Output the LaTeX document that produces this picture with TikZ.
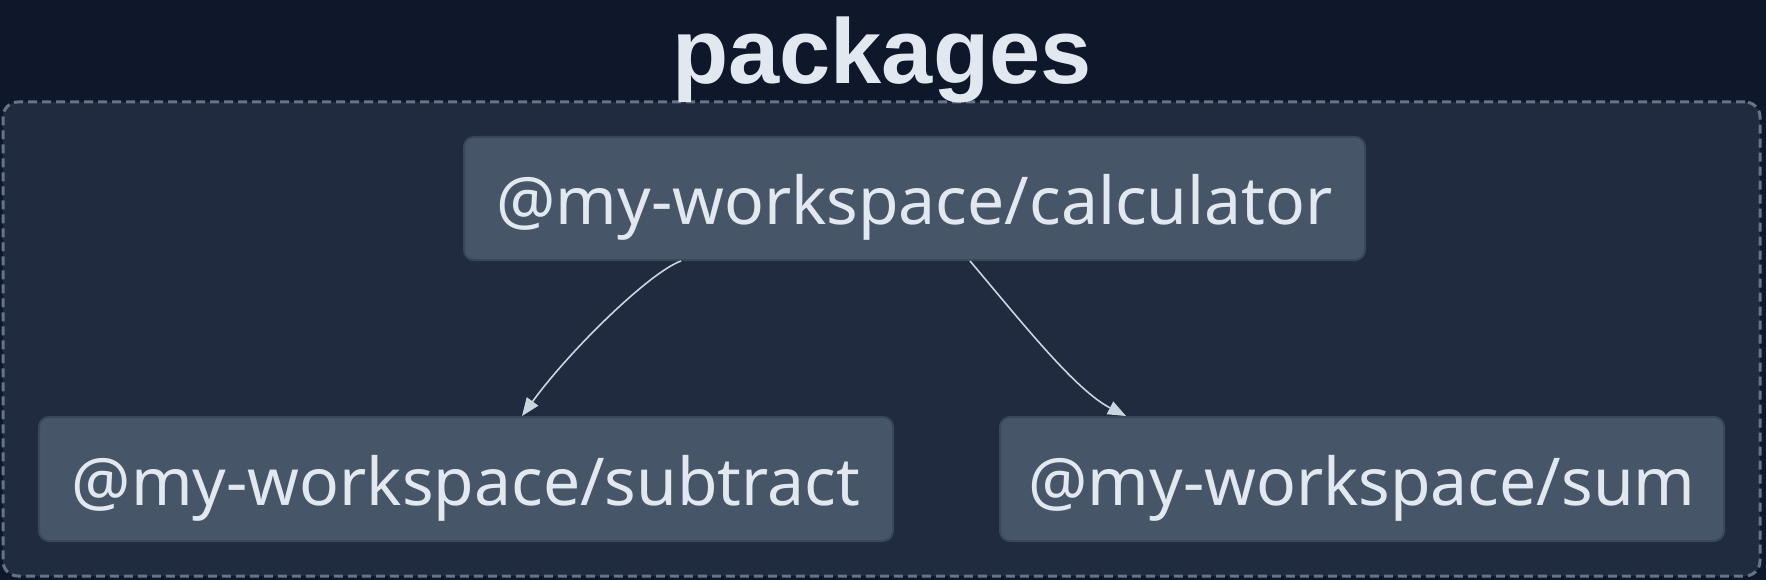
\documentclass[tikz,border=0pt]{standalone}
\usepackage{fontspec}
\setmainfont{Noto Sans}
\newfontfamily\titlefont{Liberation Sans}
\usetikzlibrary{arrows.meta}
\definecolor{bgouter}{HTML}{0F172A}
\definecolor{bginner}{HTML}{212B3F}
\definecolor{nodefill}{HTML}{475569}
\definecolor{nodeborder}{HTML}{3A475A}
\definecolor{txt}{HTML}{E2E8F0}
\definecolor{dashc}{HTML}{64748B}
\definecolor{arrowc}{HTML}{CBD5E1}
\tikzset{
  pkg/.style={draw=nodeborder, line width=2pt, fill=nodefill, rounded corners=10pt,
    text=txt, font=\fontsize{66}{76}\selectfont, inner sep=0pt, anchor=center},
  dep/.style={draw=arrowc, line width=1.6pt, -{Triangle[length=18pt,width=14pt]}},
}
\begin{document}
\begin{tikzpicture}[x=1pt,y=-1pt]
\fill[bgouter] (0,0) rectangle (1766,580);
\useasboundingbox (0,0) rectangle (1766,580);
\node[draw=dashc, line width=3pt, dash pattern=on 9pt off 5pt, fill=bginner, rounded corners=15pt,
  minimum width=1757pt, minimum height=474pt, inner sep=0pt] (frame) at (881.5,339) {};
\node[text=txt, font=\titlefont\bfseries\fontsize{92}{100}\selectfont, anchor=base] (title) at (882,84) {packages};
\node[pkg, minimum width=901pt, minimum height=123pt] (calc) at (914.5,198.5) {};
\node[text=txt, font=\fontsize{66}{76}\selectfont, anchor=base] (calct) at (914.5,225) {@my-workspace/calculator};
\node[pkg, minimum width=854pt, minimum height=124pt] (sub) at (466,479) {};
\node[text=txt, font=\fontsize{66}{76}\selectfont, anchor=base] (subt) at (466,505) {@my-workspace/subtract};
\node[pkg, minimum width=724pt, minimum height=124pt] (sum) at (1362,479) {};
\node[text=txt, font=\fontsize{66}{76}\selectfont, anchor=base] (sumt) at (1362,505) {@my-workspace/sum};
\coordinate (c1) at (681,261);
\coordinate (c2) at (970,261);
\coordinate (s1) at (522,416);
\coordinate (s2) at (1126,416);
\draw[dep] (c1) .. controls (650,272) and (570,350) .. (s1);
\draw[dep] (c2) .. controls (1020,320) and (1075,390) .. (s2);
\end{tikzpicture}
\end{document}
